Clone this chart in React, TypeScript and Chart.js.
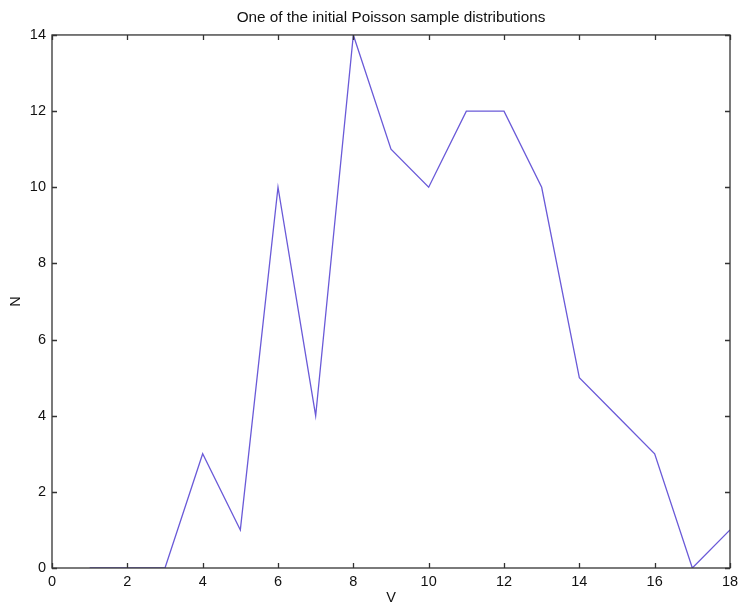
import React, { useEffect, useRef } from "react";
import { Chart, registerables } from "chart.js";

Chart.register(...registerables);

const xValues = [1, 2, 3, 4, 5, 6, 7, 8, 9, 10, 11, 12, 13, 14, 15, 16, 17, 18];
const nValues = [0, 0, 0, 3, 1, 10, 4, 14, 11, 10, 12, 12, 10, 5, 4, 3, 0, 1];
const xTicks = [0, 2, 4, 6, 8, 10, 12, 14, 16, 18];
const yTicks = [0, 2, 4, 6, 8, 10, 12, 14];
const titleText = "One of the initial Poisson sample distributions";
const xLabel = "V";
const yLabel = "N";

const FONT = "Liberation Sans, Arial, Helvetica, sans-serif";

const boxPlugin = {
  id: "boxTicks",
  afterDraw(chart: any) {
    const { ctx, chartArea } = chart;
    const xs = chart.scales.x;
    const ys = chart.scales.y;
    const len = 5;
    ctx.save();
    ctx.strokeStyle = "#333";
    ctx.lineWidth = 1.3;
    ctx.strokeRect(chartArea.left, chartArea.top, chartArea.right - chartArea.left, chartArea.bottom - chartArea.top);
    ctx.beginPath();
    xTicks.forEach((v) => {
      const px = Math.round(xs.getPixelForValue(v)) + 0.5;
      ctx.moveTo(px, chartArea.bottom);
      ctx.lineTo(px, chartArea.bottom - len);
      ctx.moveTo(px, chartArea.top);
      ctx.lineTo(px, chartArea.top + len);
    });
    yTicks.forEach((v) => {
      const py = Math.round(ys.getPixelForValue(v)) + 0.5;
      ctx.moveTo(chartArea.left, py);
      ctx.lineTo(chartArea.left + len, py);
      ctx.moveTo(chartArea.right, py);
      ctx.lineTo(chartArea.right - len, py);
    });
    ctx.stroke();
    ctx.restore();
  },
};

export default function App() {
  const ref = useRef<HTMLCanvasElement>(null);
  useEffect(() => {
    document.body.style.margin = "0";
    const chart = new Chart(ref.current!, {
      type: "line",
      data: {
        datasets: [
          {
            data: xValues.map((x, i) => ({ x, y: nValues[i] })),
            borderColor: "#6a5ad8",
            borderWidth: 1.3,
            pointRadius: 0,
            tension: 0,
            fill: false,
          },
        ],
      },
      options: {
        animation: false,
        responsive: false,
        maintainAspectRatio: false,
        layout: { autoPadding: false, padding: { left: 0, right: 9, top: 0, bottom: 0 } },
        plugins: {
          legend: { display: false },
          tooltip: { enabled: false },
          title: {
            display: true,
            text: titleText,
            fullSize: false,
            color: "#111",
            font: { family: FONT, size: 15.3, weight: "normal" },
            padding: { top: 8.3, bottom: 8.3 },
          },
        },
        scales: {
          x: {
            type: "linear",
            min: 0,
            max: 18,
            grid: { display: false, drawTicks: false },
            border: { display: false },
            ticks: {
              stepSize: 2,
              padding: 5,
              color: "#111",
              font: { family: FONT, size: 14.5 },
            },
            title: {
              display: true,
              text: xLabel,
              color: "#111",
              padding: { top: 0, bottom: -4 },
              font: { family: FONT, size: 14.5 },
            },
            afterFit: (s: any) => {
              s.height = 35;
              s.paddingLeft = 0;
              s.paddingRight = 0;
            },
          },
          y: {
            type: "linear",
            min: 0,
            max: 14,
            grid: { display: false, drawTicks: false },
            border: { display: false },
            ticks: {
              stepSize: 2,
              padding: 6,
              color: "#111",
              font: { family: FONT, size: 14.5 },
            },
            title: {
              display: true,
              text: yLabel,
              color: "#111",
              padding: { top: 7, bottom: 0 },
              font: { family: FONT, size: 14.5 },
            },
            afterFit: (s: any) => {
              s.width = 52;
              s.paddingTop = 0;
              s.paddingBottom = 0;
            },
          },
        },
      },
      plugins: [boxPlugin],
    });
    return () => chart.destroy();
  }, []);
  return (
    <div style={{ position: "absolute", left: 0, top: 0, width: 739, height: 603, background: "#fff" }}>
      <canvas ref={ref} width={739} height={603} />
    </div>
  );
}
